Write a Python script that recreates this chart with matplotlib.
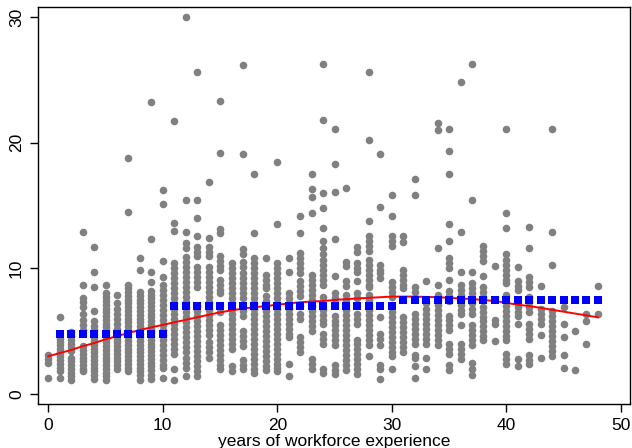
import numpy as np
import matplotlib
matplotlib.use("Agg")
import matplotlib.pyplot as plt

plt.rcParams['font.family'] = ['Liberation Sans', 'DejaVu Sans']

w00 = [1.3, 2.5, 2.8, 3.1]
w01 = [6.1, 4.4, 4.1, 3.9, 3.6, 3.3, 3.0, 2.7, 2.4, 2.1, 1.8, 1.3]
w02 = [4.9, 4.6, 4.3, 4.0, 3.7, 3.4, 2.9, 2.6, 2.3, 2.0, 1.7, 1.4, 1.1]
w03 = [12.9, 8.7, 7.6, 7.3, 6.9, 6.4, 5.9, 5.5, 5.1, 3.8, 3.5, 3.2, 2.9, 2.6, 2.3, 2.0, 1.8]
w04 = [11.7, 9.7, 8.5, 6.6, 5.8, 5.4, 5.1, 4.8, 4.5, 4.2, 3.9, 3.6, 3.3, 3.0, 2.7, 2.4, 2.1, 1.8, 1.5, 1.2]
w05 = [8.7, 8.0, 7.7, 7.4, 7.1, 6.8, 6.5, 6.2, 5.9, 5.6, 5.3, 5.0, 4.7, 4.4, 4.1, 3.8, 3.5, 3.2, 2.9, 2.6, 2.3, 2.0, 1.7, 1.4, 1.1]
w06 = [7.9, 7.2, 6.8, 6.4, 6.0, 5.6, 5.2, 4.8, 4.4, 4.1, 3.8, 3.5, 3.2, 2.9, 2.6, 2.3, 2.0]
w07 = [18.8, 14.5, 8.7, 8.4, 8.1, 7.8, 7.5, 7.2, 6.9, 6.6, 6.3, 6.0, 5.7, 5.4, 5.1, 4.8, 4.5, 4.2, 3.9, 3.6, 3.3, 3.0, 2.7, 2.4, 2.1, 1.8]
w08 = [10.8, 9.9, 8.1, 7.8, 7.5, 7.2, 6.9, 6.6, 6.3, 6.0, 5.7, 5.4, 5.1, 4.8, 4.5, 4.2, 3.9, 3.6, 3.3, 3.0, 2.7, 2.4, 2.1, 1.8, 1.5, 1.1]
w09 = [23.2, 12.3, 9.7, 8.9, 8.2, 7.9, 7.6, 7.3, 7.0, 6.7, 6.4, 6.1, 5.8, 5.5, 5.2, 4.9, 4.6, 4.3, 4.0, 3.7, 3.4, 3.1, 2.8, 2.5, 2.2, 1.9, 1.5, 1.2]
w10 = [16.2, 15.1, 10.6, 9.3, 8.7, 8.3, 7.9, 7.5, 7.1, 6.7, 6.3, 5.9, 5.5, 5.1, 4.7, 4.3, 3.9, 3.5, 3.1, 2.7, 2.3, 2.1, 1.3]
w11 = [21.7, 13.6, 13.0, 10.4, 10.0, 9.6, 9.2, 8.8, 8.4, 8.0, 7.6, 7.2, 6.8, 6.4, 6.0, 5.6, 5.2, 4.8, 4.4, 4.0, 3.6, 3.2, 2.0, 1.1]
w12 = [30.0, 15.4, 12.9, 12.0, 11.6, 10.9, 10.5, 10.1, 9.7, 9.3, 8.9, 8.5, 8.1, 7.7, 7.3, 6.9, 6.5, 6.1, 5.7, 5.3, 4.9, 4.5, 4.1, 3.7, 3.3, 2.9, 2.5, 2.1, 1.4]
w13 = [25.6, 15.4, 14.0, 12.6, 11.7, 11.3, 11.0, 10.1, 9.7, 9.3, 8.9, 8.5, 7.0, 6.6, 6.2, 5.8, 5.4, 5.0, 4.6, 4.2, 3.8, 3.4, 3.0, 2.6, 2.2, 1.8, 1.4]
w14 = [16.9, 12.4, 11.7, 11.3, 11.0, 10.1, 9.7, 9.3, 8.9, 8.5, 8.1, 7.7, 7.3, 6.7, 6.3, 5.9, 5.5, 5.1, 4.7, 4.1, 3.7, 3.3, 2.9]
w15 = [23.3, 19.2, 13.1, 12.8, 11.0, 10.6, 10.2, 9.9, 9.1, 8.7, 8.3, 8.0, 7.0, 6.5, 5.5, 5.1, 4.7, 4.3, 3.9, 3.5, 3.1, 2.7, 2.3, 2.0]
w16 = [10.4, 10.0, 9.6, 9.2, 8.8, 8.4, 8.0, 7.6, 7.2, 6.8, 6.4, 6.0, 5.6, 5.2, 4.8, 4.4, 4.0, 3.6, 2.2, 1.8]
w17 = [26.2, 19.1, 11.5, 11.1, 10.5, 10.1, 9.6, 9.2, 8.8, 8.4, 8.0, 7.6, 6.6, 6.2, 5.0, 4.6, 4.2, 3.8, 2.7, 2.3, 2.0]
w18 = [17.5, 12.8, 10.8, 10.4, 10.0, 9.6, 9.2, 8.8, 8.4, 8.0, 7.6, 7.2, 6.8, 6.4, 6.0, 5.6, 5.2, 4.8, 4.4, 4.0, 3.6, 3.2, 2.8, 2.4, 2.0, 1.7]
w19 = [10.8, 9.5, 9.1, 8.7, 8.4, 7.8, 7.4, 7.0, 6.6, 6.2, 5.8, 5.4, 5.0, 4.6, 4.2, 3.8, 3.4, 3.0, 2.6, 2.2, 1.9]
w20 = [18.5, 13.5, 10.4, 10.0, 9.6, 9.2, 8.8, 8.4, 8.0, 7.6, 7.2, 6.8, 6.4, 6.0, 5.6, 5.2, 4.8, 4.4, 4.0, 3.6, 3.2, 2.8, 2.4, 2.1, 1.8]
w21 = [10.8, 9.7, 8.0, 7.6, 7.2, 6.8, 6.4, 6.0, 5.6, 5.2, 4.8, 4.5, 2.4, 1.4]
w22 = [14.2, 12.8, 11.2, 10.8, 10.4, 10.0, 9.6, 9.0, 8.6, 8.2, 7.8, 7.0, 6.4, 6.0, 4.5, 4.1, 3.7, 3.3]
w23 = [17.5, 16.3, 15.7, 14.4, 9.5, 9.1, 8.7, 8.3, 7.9, 7.5, 7.0, 6.6, 6.2, 5.8, 5.4, 5.0, 2.8, 2.4, 2.0]
w24 = [26.3, 21.8, 16.0, 14.8, 13.2, 12.2, 11.6, 11.1, 10.7, 10.3, 9.9, 9.5, 9.1, 8.7, 7.7, 6.7, 6.3, 5.9, 5.6, 4.8, 4.4, 4.0, 2.0, 1.7]
w25 = [21.1, 18.3, 16.1, 12.3, 9.4, 8.0, 7.6, 7.2, 6.2, 5.8, 5.5, 5.1, 4.7, 4.3, 3.9, 2.3, 1.9, 1.6]
w26 = [16.4, 10.5, 10.2, 9.0, 8.6, 7.9, 7.5, 7.1, 6.7, 6.3, 5.9, 5.5, 5.1, 4.7, 4.3, 3.9, 3.5, 3.1, 2.7, 2.3, 1.9]
w27 = [11.7, 11.3, 10.4, 10.0, 9.7, 9.0, 8.0, 7.6, 6.4, 6.0, 5.6, 4.3, 4.0, 3.6, 3.2, 2.8, 2.4, 2.0, 1.6]
w28 = [25.6, 20.2, 13.8, 12.6, 12.2, 11.8, 11.4, 10.7, 10.3, 9.9, 9.5, 9.1, 8.7, 8.5, 7.9, 7.5, 7.1, 6.7, 6.3, 5.9, 5.5, 5.1, 4.7, 4.3, 3.9, 3.0]
w29 = [19.1, 14.9, 10.3, 9.9, 9.6, 9.2, 6.1, 4.8, 4.4, 3.9, 2.3, 2.0, 1.2]
w30 = [15.8, 14.2, 12.6, 12.2, 11.8, 8.9, 8.5, 8.1, 7.7, 6.5, 6.1, 5.7, 5.3, 4.9, 4.5, 4.1, 3.7, 3.3, 3.0, 2.0]
w31 = [12.6, 12.1, 9.9, 9.5, 9.1, 8.7, 8.4, 6.1, 5.7, 5.3, 4.9, 4.5, 4.1, 3.7, 3.3]
w32 = [17.1, 15.8, 8.5, 8.1, 6.4, 6.0, 5.6, 5.2, 4.8, 4.4, 4.0, 3.1, 2.9, 2.2, 1.3]
w33 = [9.0, 7.2, 6.8, 6.4, 6.0, 5.6, 5.2, 4.8, 4.4, 4.0, 2.9, 2.0]
w34 = [21.6, 21.0, 11.6, 8.7, 7.9, 7.5, 7.1, 6.7, 6.3, 5.9, 5.5, 5.1, 4.7, 4.3, 3.9]
w35 = [21.1, 19.3, 17.5, 13.5, 12.2, 10.8, 10.4, 10.0, 9.1, 8.2, 7.8, 7.4, 6.2, 5.9, 5.5, 5.1, 4.0, 3.6, 3.2, 2.3, 1.9]
w36 = [24.8, 12.9, 9.7, 8.7, 8.3, 7.9, 7.5, 7.1, 6.7, 6.4, 5.5, 4.0, 3.6, 3.2, 2.8]
w37 = [26.3, 15.4, 9.7, 8.8, 8.4, 8.0, 7.6, 7.2, 6.8, 6.4, 5.5, 5.1, 4.7, 4.3, 3.9, 2.5, 2.0, 1.5]
w38 = [11.8, 11.4, 11.0, 10.6, 9.4, 8.5, 8.1, 7.7, 6.9, 6.5, 6.1, 5.8, 5.4, 5.0, 4.6, 4.3]
w39 = [10.2, 5.9, 5.6, 4.2]
w40 = [21.1, 14.4, 13.2, 11.1, 10.7, 10.3, 9.9, 9.5, 9.1, 8.8, 7.9, 7.0, 6.6, 6.2, 5.8, 5.4, 5.0, 4.6, 4.3, 3.2, 2.8, 2.4]
w41 = [10.1, 9.0, 8.6, 8.3, 6.9, 6.5, 6.2, 5.6, 2.8, 2.2]
w42 = [13.3, 11.6, 9.3, 8.9, 8.5, 7.7, 7.3, 6.9, 6.5, 5.6, 5.2, 4.8, 4.4, 3.1, 2.7, 2.4]
w43 = [8.6, 6.8, 6.4, 6.0, 5.6, 4.7, 2.9]
w44 = [21.1, 12.9, 10.3, 6.6, 6.2, 5.8, 5.4, 5.0, 4.6, 4.2, 3.8, 3.4, 3.0]
w45 = [6.9, 5.6, 4.5, 3.1, 2.1]
w46 = [5.0, 1.9]
w47 = [6.4, 5.8, 4.0]
w48 = [8.6, 6.4]

wage_cols = [w00, w01, w02, w03, w04, w05, w06, w07, w08, w09,
             w10, w11, w12, w13, w14, w15, w16, w17, w18, w19,
             w20, w21, w22, w23, w24, w25, w26, w27, w28, w29,
             w30, w31, w32, w33, w34, w35, w36, w37, w38, w39,
             w40, w41, w42, w43, w44, w45, w46, w47, w48]

# group means (step function) and smooth fit
step_x = [1, 2, 3, 4, 5, 6, 7, 8, 9, 10,
          11, 12, 13, 14, 15, 16, 17, 18, 19, 20, 21, 22, 23, 24, 25, 26, 27, 28, 29, 30,
          31, 32, 33, 34, 35, 36, 37, 38, 39, 40, 41, 42, 43, 44, 45, 46, 47, 48]
step_y = [4.8] * 10 + [7.0] * 20 + [7.5] * 18

fit_x = list(range(49))
fit_y = [3.0, 3.25, 3.5, 3.8, 4.05, 4.35, 4.6, 4.85, 5.1, 5.3,
         5.5, 5.7, 5.9, 6.1, 6.3, 6.5, 6.65, 6.8, 6.9, 7.0,
         7.1, 7.2, 7.3, 7.35, 7.4, 7.48, 7.55, 7.6, 7.65, 7.7,
         7.75, 7.75, 7.75, 7.72, 7.7, 7.65, 7.6, 7.55, 7.48, 7.4,
         7.25, 7.1, 7.0, 6.85, 6.7, 6.55, 6.4, 6.25, 6.1]

xs = []
ys = []
for e, col in enumerate(wage_cols):
    xs += [e] * len(col)
    ys += col

fig = plt.figure(figsize=(6.32, 4.48), dpi=100)
ax = fig.add_axes([38/632, 1 - 404/448, 592/632, 397/448])

ax.scatter(xs, ys, s=30, color='#808080', linewidths=0, zorder=2)
ax.plot(fit_x, fit_y, color='#ff0000', lw=1.4, zorder=3)
ax.plot(step_x, step_y, ls='none', marker='s', ms=6, color='#0000ff',
        markeredgewidth=0, zorder=4)

ax.set_xlim(-0.9, 50.8)
ax.set_ylim(-0.8, 30.8)
ax.set_xticks([0, 10, 20, 30, 40, 50])
ax.set_yticks([0, 10, 20, 30])
ax.tick_params(direction='out', length=6, width=1, labelsize=12.5, pad=4)
ax.tick_params(top=False, right=False)
for lab in ax.get_yticklabels():
    lab.set_rotation(90)
    lab.set_va('center')
for sp in ax.spines.values():
    sp.set_linewidth(1)
    sp.set_color('black')

ax.set_xlabel('years of workforce experience', fontsize=12.5, labelpad=1)

fig.savefig('out.png', dpi=100)
